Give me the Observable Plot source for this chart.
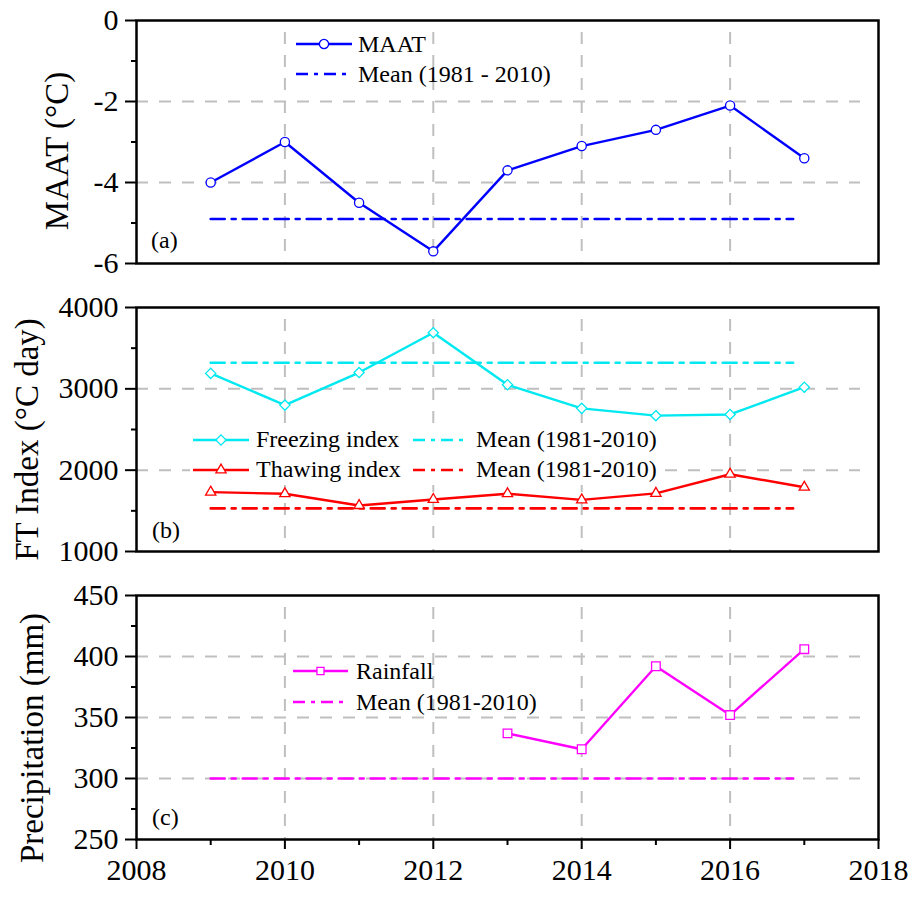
<!DOCTYPE html>
<html><head><meta charset="utf-8">
<script src="https://cdn.jsdelivr.net/npm/d3@7"></script>
<script src="https://cdn.jsdelivr.net/npm/@observablehq/plot@0.6"></script>
<style>
body{margin:0;background:#fff;}
#chart{width:912px;height:897px;position:relative;}
#chart svg{display:block;}
</style></head><body><div id="chart"></div>
<script>
// ---------- data ----------
const years = [2009, 2010, 2011, 2012, 2013, 2014, 2015, 2016, 2017];
const maat = [-4.0, -3.0, -4.5, -5.7, -3.7, -3.1, -2.7, -2.1, -3.4];
const maatMean = -4.9;
const freezing = [3190, 2800, 3200, 3690, 3050, 2760, 2670, 2685, 3020];
const freezingMean = 3320;
const thawing = [1730, 1710, 1565, 1640, 1710, 1635, 1715, 1950, 1790];
const thawingMean = 1530;
const rainYears = [2013, 2014, 2015, 2016, 2017];
const rainfall = [337, 324, 392, 352, 406];
const rainMean = 300;
const meanSpan = [2009, 2016.85];

const xDomain = [2008, 2018];
const xMajor = [2008, 2010, 2012, 2014, 2016, 2018];
const xMinor = [2009, 2011, 2013, 2015, 2017];
const xGrid = [2010, 2012, 2014, 2016];

const aDomain = [-6, 0], aMajor = [-6, -4, -2, 0], aMinor = [-5, -3, -1], aGrid = [-4, -2];
const bDomain = [1000, 4000], bMajor = [1000, 2000, 3000, 4000], bMinor = [1500, 2500, 3500], bGrid = [2000, 3000];
const cDomain = [250, 450], cMajor = [250, 300, 350, 400, 450], cMinor = [275, 325, 375, 425], cGrid = [300, 350, 400];

// ---------- styles ----------
const FONT = "'Liberation Serif', 'Times New Roman', serif";
const BLUE = "#0000ff", CYAN = "#00e8f0", RED = "#ff0000", MAG = "#ff00ff";
const GRID = "#bfbfbf";
const DASHDOT = "14,7,4,7";
const GRIDDASH = "12,11";
const LW = 2.4, MLW = 2.6;

const rows = (xs, ys) => xs.map((x, i) => ({x, y: ys[i]}));
const meanRows = v => meanSpan.map(x => ({x, y: v}));

function panel(o) {
  const marks = [
    Plot.gridY(o.grid, {stroke: GRID, strokeOpacity: 1, strokeWidth: 2, strokeDasharray: GRIDDASH, insetRight: 18}),
    Plot.gridX(xGrid, {stroke: GRID, strokeOpacity: 1, strokeWidth: 2, strokeDasharray: GRIDDASH, insetTop: 12}),
  ];
  for (const s of o.series) {
    marks.push(Plot.line(meanRows(s.mean), {x: "x", y: "y", stroke: s.color, strokeWidth: MLW, strokeDasharray: DASHDOT}));
    marks.push(Plot.line(s.data, {x: "x", y: "y", stroke: s.color, strokeWidth: LW}));
    marks.push(Plot.dot(s.data, {x: "x", y: "y", symbol: s.symbol, r: s.r, stroke: s.color, fill: "white", strokeWidth: 1.3}));
  }
  marks.push(Plot.frame({stroke: "black", strokeWidth: 2.5}));
  marks.push(Plot.axisY(o.major, {tickSize: 11, tickPadding: 7, strokeWidth: 2, fontSize: 30, tickFormat: d => String(d), label: null}));
  marks.push(Plot.axisY(o.minor, {tickSize: 5, strokeWidth: 2, tickFormat: () => "", label: null}));
  if (o.showX) {
    marks.push(Plot.axisX(xMajor, {tickSize: 10, tickPadding: 9, strokeWidth: 2, fontSize: 30, tickFormat: d => String(d), label: null}));
    marks.push(Plot.axisX(xMinor, {tickSize: 6, strokeWidth: 2, tickFormat: () => "", label: null}));
  }
  return Plot.plot({
    width: 912, height: o.height,
    marginLeft: 136, marginRight: 34, marginTop: o.mt, marginBottom: o.mb,
    x: {domain: xDomain, axis: null},
    y: {domain: o.domain, axis: null},
    style: {fontFamily: FONT, fontSize: "30px", color: "black", background: "transparent", overflow: "visible"},
    marks
  });
}

function symPath(symbol, r) {
  const map = {circle: d3.symbolCircle, diamond2: d3.symbolDiamond2, triangle2: d3.symbolTriangle2, square2: d3.symbolSquare2};
  return d3.symbol(map[symbol], Math.PI * r * r)();
}

function decorate(svg, o) {
  const g = d3.select(svg).append("g").attr("font-family", FONT).attr("fill", "black").attr("text-anchor", "start");
  if (o.box) {
    g.append("rect").attr("x", o.box[0]).attr("y", o.box[1]).attr("width", o.box[2]).attr("height", o.box[3]).attr("fill", "white");
  }
  for (const it of o.legend) {
    if (it.dash) {
      g.append("line").attr("x1", it.x1).attr("x2", it.x2).attr("y1", it.y).attr("y2", it.y)
        .attr("stroke", it.color).attr("stroke-width", MLW).attr("stroke-dasharray", "12,6,4,6");
    } else {
      g.append("line").attr("x1", it.x1).attr("x2", it.x2).attr("y1", it.y).attr("y2", it.y)
        .attr("stroke", it.color).attr("stroke-width", LW);
      g.append("path").attr("d", symPath(it.symbol, it.r)).attr("transform", `translate(${(it.x1 + it.x2) / 2},${it.y})`)
        .attr("stroke", it.color).attr("fill", "white").attr("stroke-width", 1.3);
    }
    g.append("text").attr("x", it.tx).attr("y", it.ty).attr("font-size", 24).attr("text-anchor", "start").text(it.text);
  }
  g.append("text").attr("x", o.tag[1]).attr("y", o.tag[2]).attr("font-size", 24).attr("text-anchor", "start").text(o.tag[0]);
  g.append("text").attr("transform", `translate(${o.title[1]},${o.title[2]}) rotate(-90)`)
    .attr("text-anchor", "middle").attr("font-size", 33).text(o.title[0]);
}

const chart = document.getElementById("chart");

// Panel (a)
const svgA = panel({height: 288, mt: 20, mb: 25, domain: aDomain, major: aMajor, minor: aMinor, grid: aGrid,
  series: [{data: rows(years, maat), mean: maatMean, color: BLUE, symbol: "circle", r: 4.6}]});
decorate(svgA, {
  legend: [
    {x1: 296, x2: 352, y: 44, color: BLUE, symbol: "circle", r: 4.6, tx: 358, ty: 52, text: "MAAT"},
    {x1: 296, x2: 352, y: 74, color: BLUE, dash: true, tx: 358, ty: 82, text: "Mean (1981 - 2010)"}
  ],
  tag: ["(a)", 151, 248],
  title: ["MAAT (°C)", 68, 151]
});
chart.append(svgA);

// Panel (b)
const svgB = panel({height: 288, mt: 19, mb: 25, domain: bDomain, major: bMajor, minor: bMinor, grid: bGrid,
  series: [
    {data: rows(years, freezing), mean: freezingMean, color: CYAN, symbol: "diamond2", r: 4.6},
    {data: rows(years, thawing), mean: thawingMean, color: RED, symbol: "triangle2", r: 4.9}
  ]});
decorate(svgB, {
  box: [190, 137, 472, 60],
  legend: [
    {x1: 193, x2: 249, y: 152, color: CYAN, symbol: "diamond2", r: 4.6, tx: 256, ty: 159, text: "Freezing index"},
    {x1: 413, x2: 468, y: 152, color: CYAN, dash: true, tx: 476, ty: 159, text: "Mean (1981-2010)"},
    {x1: 193, x2: 249, y: 182, color: RED, symbol: "triangle2", r: 4.9, tx: 256, ty: 189, text: "Thawing index"},
    {x1: 413, x2: 468, y: 182, color: RED, dash: true, tx: 476, ty: 189, text: "Mean (1981-2010)"}
  ],
  tag: ["(b)", 152, 250],
  title: ["FT Index (°C day)", 38, 151.5]
});
chart.append(svgB);

// Panel (c)
const svgC = panel({height: 321, mt: 19, mb: 58, domain: cDomain, major: cMajor, minor: cMinor, grid: cGrid, showX: true,
  series: [{data: rows(rainYears, rainfall), mean: rainMean, color: MAG, symbol: "square2", r: 5.5}]});
decorate(svgC, {
  legend: [
    {x1: 293, x2: 348, y: 95, color: MAG, symbol: "square2", r: 4.5, tx: 356, ty: 103, text: "Rainfall"},
    {x1: 293, x2: 348, y: 126, color: MAG, dash: true, tx: 356, ty: 134, text: "Mean (1981-2010)"}
  ],
  tag: ["(c)", 152, 249],
  title: ["Precipitation (mm)", 43, 162]
});
chart.append(svgC);
</script>
</body></html>
